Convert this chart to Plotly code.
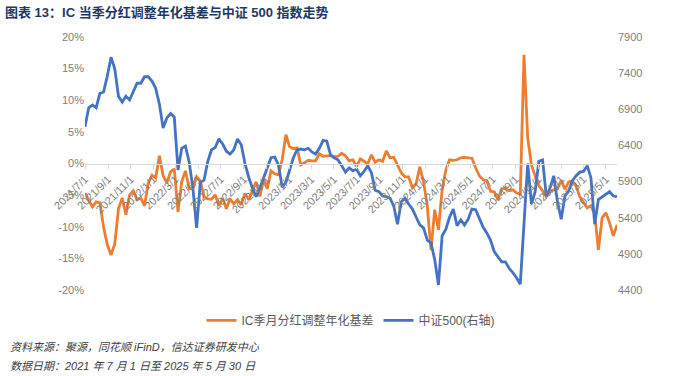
import pandas as pd
import plotly.graph_objects as go

start_date = "2021-07-01"
n_points = 144

basis_pct = [
    -4.7, -5.9, -6.85, -6.06, -6.22, -10.09, -12.86, -14.45, -12.71, -7.17,
    -5.43, -8.12, -4.95, -4.32, -5.74, -5.43, -6.69, -3.10, -1.87, -2.26,
    1.22, -1.95, -3.05, -1.31, -0.84, -7.64, -2.90, -1.16, -4.00, -3.84,
    -2.10, -2.74, -5.27, -5.59, -5.66, -4.95, -6.69, -5.43, -7.17, -5.59,
    -6.38, -5.74, -6.53, -4.72, -5.74, -4.32, -2.90, -5.22, -2.42, -4.00,
    -1.16, -1.63, -1.79, 0.59, 4.54, 2.64, 2.33, 2.48, -0.21, 0.11,
    0.51, 0.43, 0.43, 1.53, 1.14, 1.22, 1.22, 1.06, 1.14, 1.61,
    1.22, 0.43, 0.59, -0.44, 0.74, 0.35, -0.05, 1.38, 0.19, 0.59,
    0.35, 2.01, 0.90, 0.98, -0.21, -1.47, -2.10, -2.10, -3.84, -3.21,
    -0.52, -2.90, -6.69, -13.65, -7.33, -10.49, -4.16, -1.00, 0.59, 0.51,
    0.59, 0.90, 0.98, 0.90, 0.82, -0.68, -1.95, -2.58, -2.74, -4.40,
    -4.48, -5.74, -4.00, -3.92, -4.32, -4.16, -4.64, -4.87, 17.2, 4.07,
    -0.21, -1.95, -3.53, -4.32, -5.22, -4.48, -4.16, -4.00, -2.66, -4.08,
    -2.90, -2.74, -3.53, -5.27, -6.06, -7.01, -6.69, -7.96, -13.65, -8.59,
    -7.80, -9.38, -11.44, -9.70,
]

csi500 = [
    6660, 6920, 6960, 6920, 7120, 7140, 7360, 7620, 7460, 7080,
    7000, 7080, 7030, 7140, 7260, 7260, 7350, 7350, 7290, 7190,
    6970, 6640, 6780, 6840, 6790, 6060, 6360, 6390, 6170, 5810,
    5260, 5890, 5920, 6180, 6340, 6370, 6490, 6420, 6320, 6280,
    6340, 6490, 6410, 6150, 5960, 5810, 5690, 5810, 5950, 6060,
    6230, 6240, 6130, 5820, 5890, 6060, 6230, 6340, 6350, 6340,
    6360, 6310, 6280, 6360, 6470, 6460, 6270, 6230, 6200, 6120,
    6030, 6090, 6050, 6070, 5980, 6040, 6120, 6020, 5780, 5760,
    5700, 5690, 5670, 5560, 5310, 5620, 5670, 5590, 5520, 5410,
    5300, 5260, 5090, 5050, 4820, 4470, 5150, 5240, 5410, 5520,
    5290, 5370, 5300, 5380, 5520, 5510, 5380, 5270, 5190, 5090,
    4930, 4860, 4790, 4790, 4700, 4640, 4570, 4480, 5300, 6150,
    5590, 5760, 6180, 6200, 5700, 5810, 5980, 5620, 5380, 5700,
    5770, 5910, 5980, 6030, 6040, 6120, 5950, 5310, 5650, 5690,
    5730, 5760, 5700, 5690,
]

tick_labels = [
    "2021/7/1", "2021/9/1", "2021/11/1", "2022/1/1", "2022/3/1", "2022/5/1",
    "2022/7/1", "2022/9/1", "2022/11/1", "2023/1/1", "2023/3/1", "2023/5/1",
    "2023/7/1", "2023/9/1", "2023/11/1", "2024/1/1", "2024/3/1", "2024/5/1",
    "2024/7/1", "2024/9/1", "2024/11/1", "2025/1/1", "2025/3/1", "2025/5/1",
]

left_ticks = [-20, -15, -10, -5, 0, 5, 10, 15, 20]
right_ticks = [4400, 4900, 5400, 5900, 6400, 6900, 7400, 7900]

series_names = ["IC季月分红调整年化基差", "中证500(右轴)"]
title_text = "图表 13：IC 当季分红调整年化基差与中证 500 指数走势"
source_text = "资料来源：聚源，同花顺 iFinD，信达证券研发中心"
date_text = "数据日期：2021 年 7 月 1 日至 2025 年 5 月 30 日"

dates = pd.date_range(start_date, periods=n_points, freq="10D")
tick_vals = [pd.to_datetime(t, format="%Y/%m/%d") for t in tick_labels]

ORANGE = "#ED7D31"
BLUE = "#4472C4"
GRAY = "#808080"
LATIN = "Liberation Sans, Arial, sans-serif"
CJK = "Liberation Sans, Noto Sans CJK SC, sans-serif"

fig = go.Figure()
fig.add_trace(go.Scatter(
    x=dates, y=basis_pct, name=series_names[0], mode="lines",
    line=dict(color=ORANGE, width=2.8), yaxis="y",
))
fig.add_trace(go.Scatter(
    x=dates, y=csi500, name=series_names[1], mode="lines",
    line=dict(color=BLUE, width=2.8), yaxis="y2",
))

fig.update_layout(
    width=700, height=376,
    margin=dict(l=85, r=83, t=37, b=86),
    paper_bgcolor="white", plot_bgcolor="white",
    title=dict(
        text=title_text, x=5 / 700, xanchor="left", xref="container",
        y=1 - 12 / 376, yanchor="middle", yref="container",
        font=dict(family="Liberation Sans, Noto Sans CJK SC, sans-serif",
                  size=13, color="#1F3864", weight="bold"),
    ),
    xaxis=dict(
        type="date",
        range=[dates[0], dates[-1]],
        tickmode="array", tickvals=tick_vals, ticktext=tick_labels,
        tickangle=-45,
        tickfont=dict(family=LATIN, size=11, color=GRAY),
        showgrid=False, zeroline=False,
        showline=True, linecolor="#D9D9D9", linewidth=1,
        ticks="outside", ticklen=4, tickcolor="#D9D9D9",
        anchor="free", position=0.5,
    ),
    yaxis=dict(
        range=[-20, 20], tickmode="array", tickvals=left_ticks,
        ticktext=[f"{v}%" for v in left_ticks],
        tickfont=dict(family=LATIN, size=11, color=GRAY),
        showgrid=False, zeroline=False, showline=False, ticks="",
    ),
    yaxis2=dict(
        range=[4400, 7900], tickmode="array", tickvals=right_ticks,
        ticktext=[str(v) for v in right_ticks],
        tickfont=dict(family=LATIN, size=11, color=GRAY),
        overlaying="y", side="right",
        showgrid=False, zeroline=False, showline=False, ticks="",
    ),
    legend=dict(
        orientation="h", x=0.5, xanchor="center", y=-0.12, yanchor="middle",
        font=dict(family=CJK, size=12, color="#595959"),
        bgcolor="rgba(0,0,0,0)", itemwidth=30,
    ),
    showlegend=True,
)

fig.add_annotation(
    text=source_text, xref="paper", yref="paper",
    x=(8 - 85) / 532, y=(290 - 347) / 253, xanchor="left", yanchor="middle",
    showarrow=False,
    font=dict(family=CJK, size=11, color="#404040", style="italic"),
)
fig.add_annotation(
    text=date_text, xref="paper", yref="paper",
    x=(8 - 85) / 532, y=(290 - 366) / 253, xanchor="left", yanchor="middle",
    showarrow=False,
    font=dict(family=CJK, size=11, color="#404040", style="italic"),
)

fig.write_html(
    "out.html",
    config={"displayModeBar": False},
    post_script="document.body.style.margin='0';document.body.style.padding='0';",
)
